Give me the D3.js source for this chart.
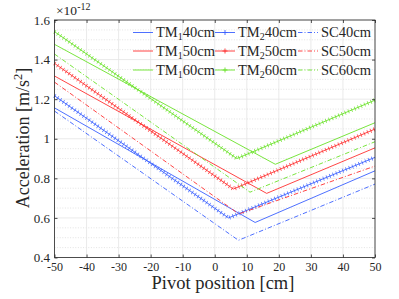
<!DOCTYPE html>
<html><head><meta charset="utf-8">
<script src="https://cdn.jsdelivr.net/npm/d3@7"></script>
<style>
html,body{margin:0;padding:0;background:#fff;}
svg{display:block;}
svg text{font-family:"Liberation Serif","DejaVu Serif","Times New Roman",serif !important;fill:#262626;}
</style></head>
<body><svg id="c" width="399" height="299"></svg>
<script>
// ---- data ----
const xTicks = [-50,-40,-30,-20,-10,0,10,20,30,40,50];
const yTicks = [0.4,0.6,0.8,1.0,1.2,1.4,1.6];
const yTickLabels = ["0.4","0.6","0.8","1","1.2","1.4","1.6"];
const yMinorTicks = [0.45,0.5,0.55,0.65,0.7,0.75,0.85,0.9,0.95,1.05,1.1,1.15,1.25,1.3,1.35,1.45,1.5,1.55];
const seriesNames = ["TM1 40cm","TM2 40cm","SC40cm","TM1 50cm","TM2 50cm","SC50cm","TM1 60cm","TM2 60cm","SC60cm"];
const tm1_40 = [[-50,1.156],[12.6,0.577],[50,0.838]];
const tm2_40 = [[-50,1.217],[4.3,0.600],[50,0.906]];
const sc_40  = [[-50,1.140],[7.4,0.487],[50,0.771]];
const tm1_50 = [[-50,1.317],[16.2,0.724],[50,0.954]];
const tm2_50 = [[-50,1.381],[5.8,0.746],[50,1.049]];
const sc_50  = [[-50,1.286],[7.5,0.620],[50,0.862]];
const tm1_60 = [[-50,1.477],[18.9,0.871],[50,1.081]];
const tm2_60 = [[-50,1.541],[6.9,0.900],[50,1.195]];
const sc_60  = [[-50,1.428],[11.0,0.730],[50,0.985]];

// ---- styles ----
const FONT = "'Liberation Serif','DejaVu Serif','Times New Roman',serif";
const BLUE="#3a60ff", RED="#ff3030", GREEN="#6ae228";
const series = [
  {label:["TM","1","40cm"], data:tm1_40, color:BLUE, kind:"solid"},
  {label:["TM","2","40cm"], data:tm2_40, color:BLUE, kind:"plus"},
  {label:["SC40cm"], data:sc_40, color:BLUE, kind:"dashdot"},
  {label:["TM","1","50cm"], data:tm1_50, color:RED, kind:"solid"},
  {label:["TM","2","50cm"], data:tm2_50, color:RED, kind:"plus"},
  {label:["SC50cm"], data:sc_50, color:RED, kind:"dashdot"},
  {label:["TM","1","60cm"], data:tm1_60, color:GREEN, kind:"solid"},
  {label:["TM","2","60cm"], data:tm2_60, color:GREEN, kind:"plus"},
  {label:["SC60cm"], data:sc_60, color:GREEN, kind:"dashdot"}
];

const L=54.5, R=375, T=20, B=257.5;
const svg = d3.select("#c").attr("font-family",FONT);
const x = d3.scaleLinear().domain([-50,50]).range([L,R]);
const y = d3.scaleLinear().domain([0.4,1.6]).range([B,T]);

// grid
const g = svg.append("g");
g.selectAll(".ymin").data(yMinorTicks).join("line")
  .attr("x1",L).attr("x2",R).attr("y1",d=>y(d)).attr("y2",d=>y(d))
  .attr("stroke","#dcdcdc").attr("stroke-width",0.8).attr("stroke-dasharray","1 1.6");
g.selectAll(".ymaj").data(yTicks).join("line")
  .attr("x1",L).attr("x2",R).attr("y1",d=>y(d)).attr("y2",d=>y(d))
  .attr("stroke","#e4e4e4").attr("stroke-width",0.8);
g.selectAll(".xmaj").data(xTicks).join("line")
  .attr("y1",T).attr("y2",B).attr("x1",d=>x(d)).attr("x2",d=>x(d))
  .attr("stroke","#e4e4e4").attr("stroke-width",0.8);

// lines
const line = d3.line().x(d=>x(d[0])).y(d=>y(d[1]));
const lg = svg.append("g");
series.forEach(s=>{
  const p = lg.append("path").datum(s.data).attr("d",line).attr("fill","none")
    .attr("stroke",s.color).attr("stroke-width",0.9);
  if(s.kind==="dashdot") p.attr("stroke-dasharray","4.5 2 1 2");
  if(s.kind==="plus"){
    lg.append("path").datum(s.data).attr("d",line).attr("fill","none")
      .attr("stroke",s.color).attr("stroke-width",4.2).attr("stroke-dasharray","0.8 2.7").attr("stroke-opacity",0.85);
  }
});

// axes
const tk = 3;
function styleAxis(sel){
  sel.attr("font-family",FONT);
  sel.select(".domain").remove();
  sel.selectAll("line").attr("stroke","#262626").attr("stroke-width",0.8);
}
svg.append("g").attr("transform",`translate(0,${B})`)
  .call(d3.axisBottom(x).tickValues(xTicks).tickSize(-tk).tickPadding(5).tickFormat(d=>String(d)))
  .call(styleAxis).call(a=>a.selectAll("text").attr("font-size",12).attr("fill","#262626"));
svg.append("g").attr("transform",`translate(0,${T})`)
  .call(d3.axisTop(x).tickValues(xTicks).tickSize(-tk).tickFormat(""))
  .call(styleAxis);
svg.append("g").attr("transform",`translate(${L},0)`)
  .call(d3.axisLeft(y).tickValues(yTicks).tickSize(-tk).tickPadding(4.5).tickFormat((d,i)=>yTickLabels[i]))
  .call(styleAxis).call(a=>a.selectAll("text").attr("font-size",13).attr("fill","#262626"));
svg.append("g").attr("transform",`translate(${R},0)`)
  .call(d3.axisRight(y).tickValues(yTicks).tickSize(-tk).tickFormat(""))
  .call(styleAxis);
svg.append("rect").attr("x",L).attr("y",T).attr("width",R-L).attr("height",B-T)
  .attr("fill","none").attr("stroke","#262626").attr("stroke-width",0.8);

// exponent
const ex = svg.append("text").attr("x",56).attr("y",15).attr("font-size",13.5);
ex.append("tspan").text("×10");
ex.append("tspan").attr("font-size",10).attr("dy",-5).text("-12");

// axis labels
svg.append("text").attr("x",223).attr("y",288.5).attr("text-anchor","middle").attr("font-size",18.5).text("Pivot position [cm]");
const yl = svg.append("text").attr("transform","translate(29,138) rotate(-90)").attr("text-anchor","middle").attr("font-size",18);
yl.append("tspan").text("Acceleration [m/s");
yl.append("tspan").attr("font-size",12.5).attr("dy",-7.5).text("2");
yl.append("tspan").attr("dy",7.5).text("]");

// legend
const colX = [133, 215, 298];
const rowY = [32.5, 51, 70];
series.forEach((s,i)=>{
  const cx = colX[i%3], cy = rowY[Math.floor(i/3)];
  const gg = svg.append("g");
  const ln = gg.append("line").attr("x1",cx).attr("x2",cx+20).attr("y1",cy).attr("y2",cy)
    .attr("stroke",s.color).attr("stroke-width",0.9);
  if(s.kind==="dashdot") ln.attr("stroke-dasharray","4.5 2 1 2");
  if(s.kind==="plus"){
    gg.append("path").attr("d",`M${cx+10-2.5},${cy}h5M${cx+10},${cy-2.5}v5`).attr("stroke",s.color).attr("stroke-width",0.9);
  }
  const t = gg.append("text").attr("x",cx+23).attr("y",cy+4.5).attr("font-size",14.5);
  t.append("tspan").text(s.label[0]);
  if(s.label.length>1){
    t.append("tspan").attr("font-size",10).attr("dy",3).text(s.label[1]);
    t.append("tspan").attr("dy",-3).text(s.label[2]);
  }
});
</script></body></html>
